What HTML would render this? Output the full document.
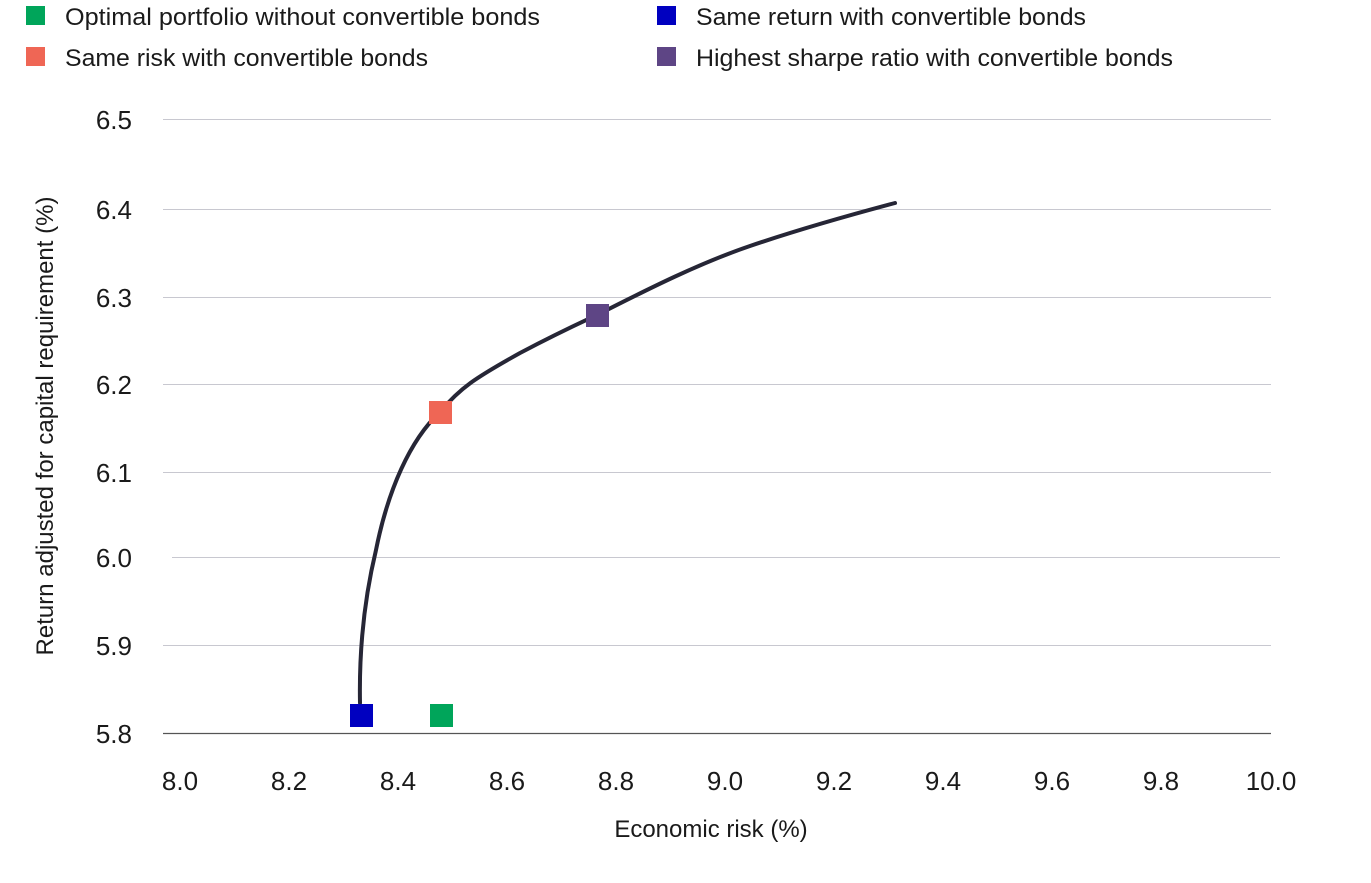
<!DOCTYPE html>
<html><head><meta charset="utf-8"><style>html,body{margin:0;padding:0;background:#fff}svg{display:block}text{font-family:"Liberation Sans Narrow","Liberation Sans",sans-serif;fill:#1a1a1a}</style></head>
<body>
<svg width="1371" height="883" viewBox="0 0 1371 883">
<rect x="26" y="6" width="19" height="19" fill="#00a55a"/>
<text x="65" y="25" font-size="24" textLength="475" lengthAdjust="spacingAndGlyphs">Optimal portfolio without convertible bonds</text>
<rect x="26" y="47" width="19" height="19" fill="#ef6655"/>
<text x="65" y="66" font-size="24" textLength="363" lengthAdjust="spacingAndGlyphs">Same risk with convertible bonds</text>
<rect x="657" y="6" width="19" height="19" fill="#0000c0"/>
<text x="696" y="25" font-size="24" textLength="390" lengthAdjust="spacingAndGlyphs">Same return with convertible bonds</text>
<rect x="657" y="47" width="19" height="19" fill="#5e4585"/>
<text x="696" y="66" font-size="24" textLength="477" lengthAdjust="spacingAndGlyphs">Highest sharpe ratio with convertible bonds</text>
<g stroke="#c8c8d0" stroke-width="1">
<line x1="163" x2="1271" y1="119.5" y2="119.5"/><line x1="163" x2="1271" y1="209.5" y2="209.5"/><line x1="163" x2="1271" y1="297.5" y2="297.5"/><line x1="163" x2="1271" y1="384.5" y2="384.5"/><line x1="163" x2="1271" y1="472.5" y2="472.5"/><line x1="172" x2="1280" y1="557.5" y2="557.5"/><line x1="163" x2="1271" y1="645.5" y2="645.5"/>
</g>
<line x1="163" x2="1271" y1="733.5" y2="733.5" stroke="#555" stroke-width="1.2"/>
<g font-size="26" text-anchor="end">
<text x="132" y="129">6.5</text><text x="132" y="219">6.4</text><text x="132" y="307">6.3</text><text x="132" y="394">6.2</text><text x="132" y="482">6.1</text><text x="132" y="567">6.0</text><text x="132" y="655">5.9</text><text x="132" y="743">5.8</text>
</g>
<g font-size="26" text-anchor="middle">
<text x="180" y="790">8.0</text><text x="289" y="790">8.2</text><text x="398" y="790">8.4</text><text x="507" y="790">8.6</text><text x="616" y="790">8.8</text><text x="725" y="790">9.0</text><text x="834" y="790">9.2</text><text x="943" y="790">9.4</text><text x="1052" y="790">9.6</text><text x="1161" y="790">9.8</text><text x="1271" y="790">10.0</text>
</g>
<text x="711" y="837" font-size="24" text-anchor="middle">Economic risk (%)</text>
<text transform="translate(53,426) rotate(-90)" font-size="24" text-anchor="middle">Return adjusted for capital requirement (%)</text>
<path d="M360,703 C359,650 364,600 376,550 C388,490 410,440 440,412 C460,388 475,378 520,353 C560,332 580,323 597,315 C650,288 700,263 750,246 C800,229 850,215 895,203" fill="none" stroke="#262636" stroke-width="4" stroke-linecap="round"/>
<rect x="350" y="704" width="23" height="23" fill="#0000c0"/>
<rect x="430" y="704" width="23" height="23" fill="#00a55a"/>
<rect x="429" y="401" width="23" height="23" fill="#ef6655"/>
<rect x="586" y="304" width="23" height="23" fill="#5e4585"/>
</svg>
</body></html>
